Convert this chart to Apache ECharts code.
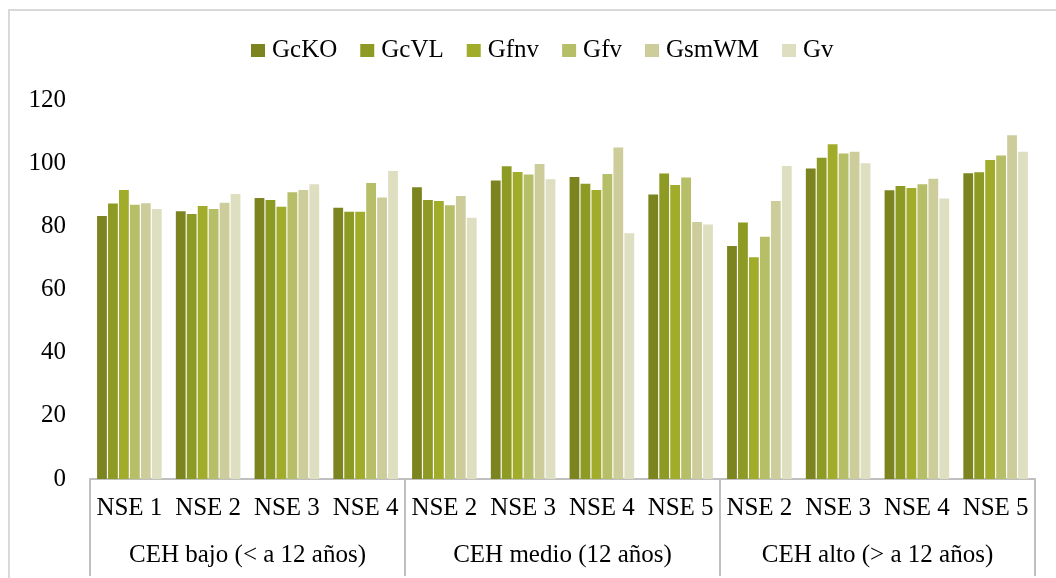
<!DOCTYPE html>
<html><head><meta charset="utf-8">
<script src="https://cdn.jsdelivr.net/npm/echarts@6/dist/echarts.min.js"></script>
<style>
html,body{margin:0;padding:0;background:#fff;}
#c{width:1056px;height:578px;position:relative;}
#frame{position:absolute;left:8px;top:9px;width:1100px;height:600px;border-left:2px solid #d9d9d9;border-top:2px solid #d9d9d9;pointer-events:none;}
</style></head>
<body>
<div id="frame"></div>
<div id="c"></div>
<script>
const categories = ['NSE 1','NSE 2','NSE 3','NSE 4','NSE 2','NSE 3','NSE 4','NSE 5','NSE 2','NSE 3','NSE 4','NSE 5'];
const groups = ['CEH bajo (< a 12 años)','CEH medio (12 años)','CEH alto (> a 12 años)'];
const seriesNames = ['GcKO','GcVL','Gfnv','Gfv','GsmWM','Gv'];
const GcKO  = [83.3,84.8,89.0,85.9,92.4,94.5,95.6,90.1,73.8,98.3,91.4,96.8];
const GcVL  = [87.2,83.9,88.3,84.6,88.3,99.0,93.5,96.7,81.2,101.7,92.8,97.1];
const Gfnv  = [91.5,86.4,86.2,84.6,88.0,97.2,91.5,93.1,70.2,106.0,92.1,101.0];
const Gfv   = [86.8,85.5,90.8,93.7,86.7,96.4,96.6,95.5,76.7,103.1,93.3,102.4];
const GsmWM = [87.3,87.5,91.5,89.1,89.6,99.7,105.0,81.4,88.0,103.6,95.1,108.8];
const Gv    = [85.5,90.2,93.3,97.5,82.7,94.9,77.8,80.6,99.1,100.0,88.8,103.6];
const yTicks = [0,20,40,60,80,100,120];

const values = [GcKO,GcVL,Gfnv,Gfv,GsmWM,Gv];
const colors = ['#7b841f','#8d9a23','#a1ad2a','#b6be67','#cdcd9b','#dedec1'];
const font = '"Liberation Serif", "Times New Roman", serif';

const chart = echarts.init(document.getElementById('c'), null, {renderer:'canvas'});
chart.setOption({
  animation:false,
  color: colors,
  textStyle:{fontFamily:font},
  legend:{
    top:33, left:246, itemWidth:14, itemHeight:13, itemGap:23,
    icon:'rect',
    textStyle:{fontFamily:font, fontSize:25, color:'#000', padding:[0,0,0,2]},
    data: seriesNames
  },
  grid:{left:90, right:21, top:100, bottom:99},
  xAxis:[
    {type:'category', data:categories, position:'bottom',
     axisLine:{show:true, lineStyle:{color:'#bfbfbf', width:2}},
     axisTick:{show:false},
     axisLabel:{fontFamily:font, fontSize:25, color:'#000', margin:17, interval:0}},
    {type:'category', data:groups, position:'bottom', gridIndex:0,
     axisLine:{show:false},
     axisTick:{show:true, length:97, alignWithLabel:false, interval:0, lineStyle:{color:'#bfbfbf', width:2}},
     axisLabel:{fontFamily:font, fontSize:25, color:'#000', margin:64, interval:0}}
  ],
  yAxis:{type:'value', min:0, max:120, interval:20,
    axisLine:{show:false}, axisTick:{show:false}, splitLine:{show:false},
    axisLabel:{fontFamily:font, fontSize:25, color:'#000', margin:24,
      formatter: v => yTicks.includes(v) ? String(v) : ''}},
  series: seriesNames.map((n,i)=>({
    name:n, type:'bar', xAxisIndex:0, data:values[i],
    barGap:'12%', barCategoryGap:'18%',
    itemStyle:{color:colors[i]}
  }))
});
</script>
</body></html>
